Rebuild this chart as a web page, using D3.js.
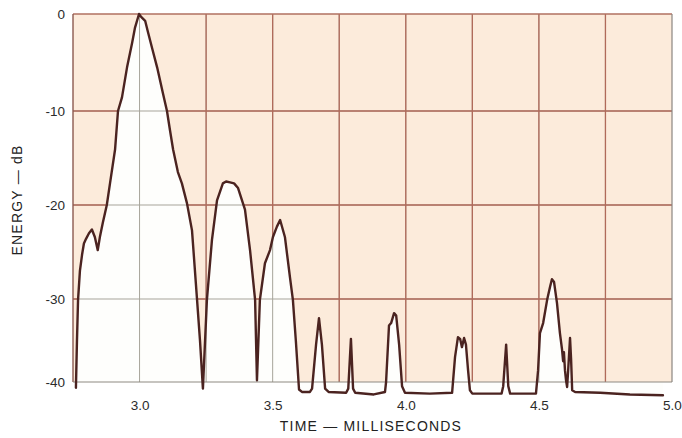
<!DOCTYPE html>
<html><head><meta charset="utf-8">
<script src="https://cdn.jsdelivr.net/npm/d3@7"></script>
<style>body{margin:0;background:#fff}svg{display:block}</style>
</head><body>
<svg id="chart" width="682" height="438"></svg>
<script>
// ---- data ----
const timeMs = [2.761,2.765,2.769,2.776,2.784,2.791,2.799,2.810,2.821,2.832,2.843,2.851,2.862,2.877,2.889,2.908,2.919,2.934,2.953,2.972,2.983,2.998,3.006,3.021,3.032,3.047,3.066,3.088,3.103,3.114,3.126,3.144,3.159,3.178,3.197,3.216,3.227,3.238,3.253,3.272,3.291,3.313,3.325,3.340,3.355,3.370,3.396,3.415,3.434,3.441,3.452,3.471,3.490,3.501,3.516,3.528,3.546,3.565,3.576,3.587,3.599,3.610,3.640,3.648,3.663,3.674,3.685,3.697,3.710,3.776,3.784,3.794,3.802,3.810,3.880,3.922,3.926,3.937,3.945,3.956,3.964,3.975,3.986,3.997,4.090,4.174,4.185,4.196,4.204,4.211,4.219,4.226,4.234,4.241,4.250,4.360,4.366,4.377,4.385,4.392,4.489,4.497,4.504,4.516,4.531,4.542,4.549,4.557,4.568,4.579,4.587,4.591,4.594,4.598,4.602,4.606,4.610,4.617,4.621,4.625,4.636,4.730,4.842,4.966];
const energyDb = [-40.7,-34.9,-30.1,-27.0,-25.3,-24.1,-23.6,-23.0,-22.6,-23.4,-24.8,-23.4,-21.9,-20.0,-17.7,-14.1,-10.0,-8.6,-5.5,-3.0,-1.4,0.0,-0.3,-0.7,-1.9,-3.5,-5.5,-8.2,-10.0,-12.0,-14.1,-16.5,-17.7,-19.8,-22.7,-30.1,-35.0,-40.8,-30.1,-23.7,-19.5,-17.7,-17.5,-17.6,-17.7,-18.2,-20.5,-24.8,-30.1,-39.8,-30.1,-26.2,-24.8,-23.4,-22.3,-21.6,-23.4,-27.7,-30.1,-35.0,-40.9,-41.2,-41.2,-40.8,-35.5,-32.3,-35.5,-40.8,-41.2,-41.3,-40.8,-34.8,-40.8,-41.3,-41.5,-41.2,-40.0,-33.2,-32.9,-31.7,-32.0,-35.5,-40.5,-41.3,-41.4,-41.3,-37.0,-34.6,-34.8,-35.8,-34.7,-35.5,-38.6,-41.0,-41.4,-41.4,-40.5,-35.5,-40.5,-41.4,-41.4,-38.6,-34.1,-32.9,-30.1,-28.7,-27.9,-28.2,-30.5,-34.1,-36.1,-37.5,-36.4,-38.6,-39.8,-40.6,-38.6,-34.7,-37.3,-41.0,-41.2,-41.3,-41.5,-41.6];
const xTickValues = [3.0,3.5,4.0,4.5,5.0];
const xTickLabels = ["3.0","3.5","4.0","4.5","5.0"];
const yTickValues = [0,-10,-20,-30,-40];
const yTickLabels = ["0","-10","-20","-30","-40"];
const xGridValues = [3.0,3.25,3.5,3.75,4.0,4.25,4.5,4.75];
const yGridValues = [-10,-20,-30];
const xDomain = [2.75,5.0];
const xTitle = "TIME — MILLISECONDS";
const yTitle = "ENERGY — dB";

// ---- layout ----
const L = 73, R = 672, T = 14, B = 382;
const x = d3.scaleLinear().domain(xDomain).range([L, R]);
const y = d3.scaleLinear().domain(yTickValues).range([T, 111, 205, 299, B]);

const pts = timeMs.map((t,i)=>({t, v: energyDb[i]}));
const svg = d3.select("#chart");
const defs = svg.append("defs");

defs.append("clipPath").attr("id","plotClip")
  .append("rect").attr("x",L).attr("y",T).attr("width",R-L).attr("height",B-T);

// region above the curve
const aboveArea = d3.area().x(d=>x(d.t)).y0(T).y1(d=>y(d.v));
const aboveData = [{t:xDomain[0], v:-40}, ...pts, {t:xDomain[1], v:-41.6}];
defs.append("clipPath").attr("id","aboveClip")
  .append("path").attr("d", aboveArea(aboveData));

// peach background
svg.append("rect").attr("x",L).attr("y",T).attr("width",R-L).attr("height",B-T)
  .attr("fill","#fcebdb");

// white area under the curve
const underArea = d3.area().x(d=>x(d.t)).y0(y(-40)).y1(d=>y(d.v));
svg.append("path").attr("d", underArea(pts)).attr("fill","#fefefc");

// grey grid (under curve)
const gGrey = svg.append("g").attr("clip-path","url(#plotClip)");
gGrey.selectAll("line.vx").data(xGridValues).join("line")
  .attr("x1",d=>x(d)).attr("x2",d=>x(d)).attr("y1",T).attr("y2",B)
  .attr("stroke","#a7a49a").attr("stroke-width",1);
gGrey.selectAll("line.hy").data(yGridValues).join("line")
  .attr("x1",L).attr("x2",R).attr("y1",d=>y(d)).attr("y2",d=>y(d))
  .attr("stroke","#a7a49a").attr("stroke-width",1);

// red grid (above curve)
const gRed = svg.append("g").attr("clip-path","url(#aboveClip)");
gRed.selectAll("line.vx").data(xGridValues).join("line")
  .attr("x1",d=>x(d)).attr("x2",d=>x(d)).attr("y1",T).attr("y2",B)
  .attr("stroke","#b06a5a").attr("stroke-width",1.3);
gRed.selectAll("line.hy").data(yGridValues).join("line")
  .attr("x1",L).attr("x2",R).attr("y1",d=>y(d)).attr("y2",d=>y(d))
  .attr("stroke","#b06a5a").attr("stroke-width",1.3);

// borders
svg.append("line").attr("x1",L).attr("x2",R).attr("y1",T).attr("y2",T)
  .attr("stroke","#b07060").attr("stroke-width",1.3);
svg.append("line").attr("x1",L).attr("x2",L).attr("y1",T).attr("y2",B)
  .attr("stroke","#8c5a50").attr("stroke-width",1.4);
svg.append("line").attr("x1",R).attr("x2",R).attr("y1",T).attr("y2",B)
  .attr("stroke","#8a8580").attr("stroke-width",1.2);
svg.append("line").attr("x1",L).attr("x2",R).attr("y1",B).attr("y2",B)
  .attr("stroke","#8e8a82").attr("stroke-width",1.2);

// curve
const line = d3.line().x(d=>x(d.t)).y(d=>y(d.v));
svg.append("path").attr("d", line(pts)).attr("fill","none")
  .attr("stroke","#4b2320").attr("stroke-width",2.4)
  .attr("stroke-linejoin","round").attr("stroke-linecap","round");

// axes (labels only)
const font = "'Liberation Sans', Arial, sans-serif";
const xAxis = d3.axisBottom(x).tickValues(xTickValues)
  .tickFormat((d,i)=>xTickLabels[i]).tickSize(0).tickPadding(0);
const gx = svg.append("g").attr("transform",`translate(0,${B+18})`).call(xAxis);
gx.select(".domain").remove();
gx.selectAll("text").attr("font-family",font).attr("font-size",13.5)
  .attr("fill","#2b2b2b").attr("dy","0.71em");

const yAxis = d3.axisLeft(y).tickValues(yTickValues)
  .tickFormat((d,i)=>yTickLabels[i]).tickSize(0).tickPadding(0);
const gy = svg.append("g").attr("transform",`translate(${L-8},0)`).call(yAxis);
gy.select(".domain").remove();
gy.selectAll("text").attr("font-family",font).attr("font-size",13.5)
  .attr("fill","#2b2b2b");

// titles
svg.append("text").attr("x",371).attr("y",431).attr("text-anchor","middle")
  .attr("font-family",font).attr("font-size",14).attr("letter-spacing","1.2px")
  .attr("fill","#222").text(xTitle);
svg.append("text").attr("transform","translate(22,200) rotate(-90)")
  .attr("text-anchor","middle")
  .attr("font-family",font).attr("font-size",14).attr("letter-spacing","1.2px")
  .attr("fill","#222").text(yTitle);
</script>
</body></html>
